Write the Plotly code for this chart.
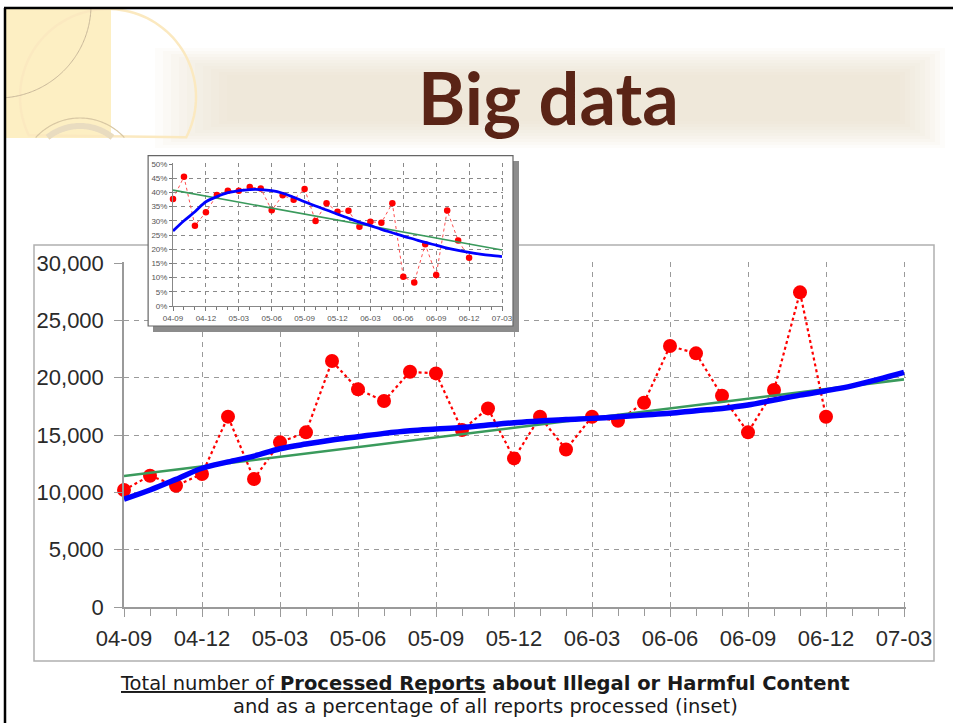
import numpy as np
import plotly.graph_objects as go

# ---------------- data ----------------
months = ["04-09", "04-10", "04-11", "04-12",
          "05-01", "05-02", "05-03", "05-04", "05-05", "05-06",
          "05-07", "05-08", "05-09", "05-10", "05-11", "05-12",
          "06-01", "06-02", "06-03", "06-04", "06-05", "06-06",
          "06-07", "06-08", "06-09", "06-10", "06-11", "06-12",
          "07-01", "07-02", "07-03"]
tick_labels = ["04-09", "04-12", "05-03", "05-06", "05-09", "05-12",
               "06-03", "06-06", "06-09", "06-12", "07-03"]

reports = [10200, 11450, 10580, 11600, 16600, 11160, 14360, 15230, 21450, 18980,
           17960, 20510, 20370, 15430, 17320, 12960, 16590, 13740, 16590, 16240,
           17810, 22760, 22120, 18420, 15230, 18920, 27440, 16590]
reports_smooth = [9400, 10200, 11130, 12100, 12650, 13160, 13800, 14210, 14560, 14850,
                  15140, 15370, 15520, 15660, 15870, 16070, 16220, 16360, 16450, 16590,
                  16740, 16890, 17120, 17320, 17610, 18050, 18480, 18860, 19290, 19850,
                  20460]
reports_trend = [11420, 19850]          # at first and last month

pct = [37.7, 45.5, 28.3, 33.0, 39.1, 40.6, 40.6, 41.9, 41.4, 33.7,
       39.0, 37.4, 41.2, 29.9, 36.2, 33.2, 33.5, 27.9, 29.7, 29.3,
       36.2, 10.3, 8.3, 21.7, 10.9, 33.6, 23.1, 17.0]
pct_smooth = [26.4, 30.0, 33.2, 36.7, 38.5, 39.9, 40.6, 41.0, 41.0, 40.6,
              39.7, 38.3, 36.7, 35.2, 33.8, 32.3, 30.9, 29.5, 28.3, 27.0,
              25.8, 24.6, 23.5, 22.4, 21.4, 20.4, 19.6, 18.9, 18.3, 17.8, 17.4]
pct_trend = [40.8, 19.7]

y_ticks = [0, 5000, 10000, 15000, 20000, 25000, 30000]
pct_ticks = [0, 5, 10, 15, 20, 25, 30, 35, 40, 45, 50]
pct_tick_labels = ["0%", "5%", "10%", "15%", "20%", "25%", "30%", "35%", "40%", "45%", "50%"]

# ---------------- geometry helpers ----------------
W, H = 953, 723
def px(x):
    return x / W
def py(y):
    return 1 - y / H

idx = list(range(len(months)))
pts_idx = idx[:len(reports)]
tick_idx = [months.index(t) for t in tick_labels]
ends_idx = [idx[0], idx[-1]]

RED = "#ff0000"
BLUE = "#0000ff"
GREEN = "#3a9a5c"
GRID = "#9a9a9a"
AX = "#9a9a9a"

fig = go.Figure()

# ---- main chart ----
fig.add_trace(go.Scatter(x=pts_idx, y=reports, mode="lines+markers",
                         line=dict(color=RED, width=2.2, dash="dot"),
                         marker=dict(color=RED, size=14), cliponaxis=False,
                         xaxis="x", yaxis="y", showlegend=False))
fig.add_trace(go.Scatter(x=ends_idx, y=reports_trend, mode="lines",
                         line=dict(color=GREEN, width=2.6),
                         xaxis="x", yaxis="y", showlegend=False))
fig.add_trace(go.Scatter(x=idx, y=reports_smooth, mode="lines",
                         line=dict(color=BLUE, width=5.5, shape="spline"),
                         xaxis="x", yaxis="y", showlegend=False))

# ---- inset frame subplot (x2/y2) ----
fig.add_trace(go.Scatter(x=[0.5], y=[0.5], mode="markers", marker=dict(opacity=0),
                         hoverinfo="skip", xaxis="x2", yaxis="y2", showlegend=False))

# ---- inset data (x3/y3) ----
fig.add_trace(go.Scatter(x=pts_idx, y=pct, mode="lines+markers",
                         line=dict(color="#ff5050", width=1, dash="dot"),
                         marker=dict(color=RED, size=6.5), cliponaxis=False,
                         xaxis="x3", yaxis="y3", showlegend=False))
fig.add_trace(go.Scatter(x=ends_idx, y=pct_trend, mode="lines",
                         line=dict(color=GREEN, width=1.6),
                         xaxis="x3", yaxis="y3", showlegend=False))
fig.add_trace(go.Scatter(x=idx, y=pct_smooth, mode="lines",
                         line=dict(color=BLUE, width=2.8, shape="spline"),
                         xaxis="x3", yaxis="y3", showlegend=False))

# main axes mapping: month 0 -> x=124 px, month 30 -> x=904 px; 0 -> y=607, 30000 -> y=263
mx0, mdx = 124, 26.0
xr_main = [0, 30.08]
my0, mdy = 607, 344 / 30000
yr_main = [0, 30080]

# inset mapping: month 0 -> 173, month 30 -> 502 ; 0% -> 306, 50% -> 164
ix0, idx_px = 173, (502 - 173) / 30
xr_in = [0, 30.1]
iy0, idy = 306, (306 - 164) / 50
yr_in = [0, 50.25]

tickfont_main = dict(family="Liberation Sans, Arial", size=22, color="#2a2a2a")
tickfont_in = dict(family="Liberation Sans, Arial", size=8, color="#555555")

fig.update_layout(
    width=W, height=H, margin=dict(l=0, r=0, t=0, b=0, pad=0, autoexpand=False),
    paper_bgcolor="white", plot_bgcolor="rgba(0,0,0,0)",
    xaxis=dict(domain=[px(mx0), px(mx0 + xr_main[1] * mdx)], range=xr_main,
               anchor="y", tickmode="array", tickvals=tick_idx, ticktext=tick_labels,
               ticks="outside", ticklen=8, tickcolor=AX, tickwidth=1,
               ticklabelstandoff=3,
               showline=True, linecolor=AX, linewidth=1.5, automargin=False,
               showgrid=True, gridcolor=GRID, griddash="5px,5px", gridwidth=1,
               zeroline=False, tickfont=tickfont_main,
               minor=dict(tickmode="array", tickvals=idx, ticks="outside", ticklen=7,
                          tickcolor=AX, showgrid=False)),
    yaxis=dict(domain=[py(my0), py(my0 - yr_main[1] * mdy)], range=yr_main,
               anchor="x", tickmode="array", tickvals=y_ticks, tickformat=",d",
               ticks="outside", ticklen=8, tickcolor=AX, tickwidth=1,
               ticklabelstandoff=6,
               showline=True, linecolor=AX, linewidth=1.5, automargin=False,
               showgrid=True, gridcolor=GRID, griddash="5px,5px", gridwidth=1,
               zeroline=False, tickfont=tickfont_main),
    xaxis2=dict(domain=[px(147), px(519)], range=[0, 1], anchor="y2", visible=False,
                automargin=False),
    yaxis2=dict(domain=[py(332), py(155)], range=[0, 1], anchor="x2", visible=False,
                automargin=False),
    xaxis3=dict(domain=[px(ix0), px(ix0 + xr_in[1] * idx_px)], range=xr_in,
                anchor="y3", tickmode="array", tickvals=tick_idx, ticktext=tick_labels,
                ticks="outside", ticklen=4, tickcolor="#777", tickwidth=1,
                showline=True, linecolor="#888", linewidth=1, automargin=False,
                showgrid=True, gridcolor="#8a8a8a", griddash="4px,4px", gridwidth=1,
                zeroline=False, tickfont=tickfont_in,
                minor=dict(tickmode="array", tickvals=idx, ticks="outside", ticklen=3,
                           tickcolor="#777", showgrid=False)),
    yaxis3=dict(domain=[py(iy0), py(iy0 - yr_in[1] * idy)], range=yr_in,
                anchor="x3", tickmode="array", tickvals=pct_ticks, ticktext=pct_tick_labels,
                ticks="outside", ticklen=3, tickcolor="#777", tickwidth=1,
                showline=True, linecolor="#888", linewidth=1, automargin=False,
                showgrid=True, gridcolor="#8a8a8a", griddash="4px,4px", gridwidth=1,
                zeroline=False, tickfont=tickfont_in),
)

shapes = []
# ---- slide decoration ----
# title band (soft blurred beige)
for k in range(10):
    shapes.append(dict(type="rect", xref="paper", yref="paper", layer="below",
                       x0=px(155 + 8 * k), x1=px(945 - 5 * k),
                       y0=py(148 - 3 * k), y1=py(48 + 3 * k),
                       fillcolor="#e6dac4", opacity=0.09, line=dict(width=0)))
# pale yellow panel at top-left
shapes.append(dict(type="rect", xref="paper", yref="paper", layer="below",
                   x0=px(6), x1=px(111), y0=py(138), y1=py(9),
                   fillcolor="#fdefc3", line=dict(width=0)))

def arc_path(cx, cy, r, a0, a1, ymax=138, xmin=6):
    t = np.linspace(np.radians(a0), np.radians(a1), 120)
    xs = cx + r * np.cos(t)
    ys = cy - r * np.sin(t)
    keep = (ys <= ymax) & (xs >= xmin) & (ys >= 9)
    xs, ys = xs[keep], ys[keep]
    return "M " + " L ".join(f"{px(a):.5f},{py(b):.5f}" for a, b in zip(xs, ys))

shapes.append(dict(type="path", xref="paper", yref="paper", layer="below",
                   path=arc_path(108, 97, 88, 0, 360),
                   line=dict(color="#fbe9c0", width=2.5)))
shapes.append(dict(type="path", xref="paper", yref="paper", layer="below",
                   path=arc_path(-2, 5, 93, -90, 10),
                   line=dict(color="#c9b89a", width=1)))
shapes.append(dict(type="path", xref="paper", yref="paper", layer="below",
                   path=arc_path(80, 178, 60, 0, 180),
                   line=dict(color="#d8c7a3", width=1.2)))
shapes.append(dict(type="path", xref="paper", yref="paper", layer="below",
                   path=arc_path(80, 178, 52, 0, 180),
                   line=dict(color="#e9dcc0", width=6)))
# black slide border (top and left)
shapes.append(dict(type="line", xref="paper", yref="paper", layer="above",
                   x0=px(4), x1=1, y0=py(8), y1=py(8),
                   line=dict(color="black", width=2.5)))
shapes.append(dict(type="line", xref="paper", yref="paper", layer="above",
                   x0=px(5), x1=px(5), y0=py(8), y1=0,
                   line=dict(color="black", width=2.5)))
# main chart frame
shapes.append(dict(type="rect", xref="paper", yref="paper", layer="below",
                   x0=px(34), x1=px(934), y0=py(661), y1=py(245),
                   line=dict(color="#b0b0b0", width=1.5)))
# inset frame (drawn inside subplot x2y2 so it hides the main grid)
sx, sy = 6 / 372, 6 / 177
shapes.append(dict(type="rect", xref="x2", yref="y2", layer="below",
                   x0=sx, x1=1, y0=0, y1=1 - sy,
                   fillcolor="#8c8c8c", line=dict(width=0)))
shapes.append(dict(type="rect", xref="x2", yref="y2", layer="below",
                   x0=0.003, x1=1 - sx, y0=sy, y1=0.996,
                   fillcolor="white", line=dict(color="#666666", width=1.2)))
fig.update_layout(shapes=shapes)

# ---- texts ----
fig.add_annotation(text="<b>Big data</b>", xref="paper", yref="paper",
                   x=px(548), y=py(97), xanchor="center", yanchor="middle",
                   showarrow=False,
                   font=dict(family="Lato", size=72, color="#5a2416"))
fig.add_annotation(text="<u>Total number of <b>Processed Reports</b></u><b> about Illegal or Harmful Content</b>",
                   xref="paper", yref="paper", x=px(485), y=py(683),
                   xanchor="center", yanchor="middle", showarrow=False,
                   font=dict(family="DejaVu Sans", size=19.5, color="#1a1a1a"))
fig.add_annotation(text="and as a percentage of all reports processed (inset)",
                   xref="paper", yref="paper", x=px(485), y=py(706),
                   xanchor="center", yanchor="middle", showarrow=False,
                   font=dict(family="DejaVu Sans", size=19.5, color="#1a1a1a"))

fig.write_html("out.html", config={"displayModeBar": False},
               post_script="document.body.style.margin='0';document.body.style.padding='0';")
